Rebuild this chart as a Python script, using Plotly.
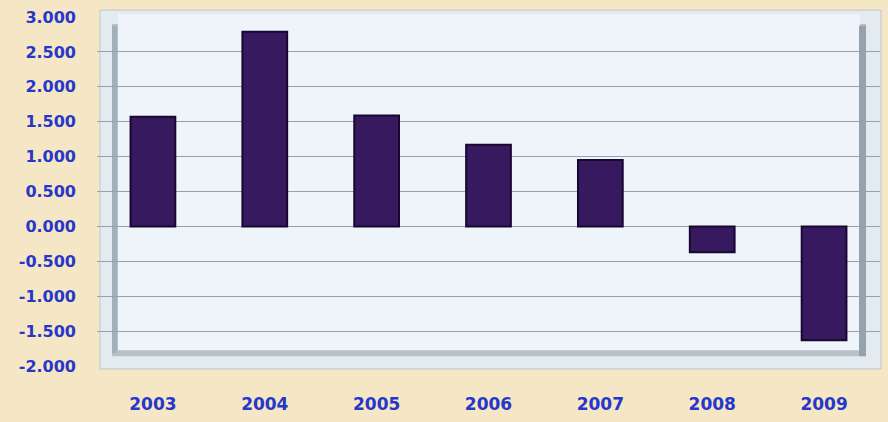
import plotly.graph_objects as go

years = ["2003", "2004", "2005", "2006", "2007", "2008", "2009"]
values = [1.57, 2.79, 1.59, 1.17, 0.95, -0.37, -1.63]
y_ticks = [3.0, 2.5, 2.0, 1.5, 1.0, 0.5, 0.0, -0.5, -1.0, -1.5, -2.0]
y_tick_labels = ["3.000", "2.500", "2.000", "1.500", "1.000", "0.500", "0.000",
                 "-0.500", "-1.000", "-1.500", "-2.000"]

W, H = 888, 422
L, R, T, B = 97, 8, 15, 53
pw, ph = W - L - R, H - T - B


def px(x):
    return (x - L) / pw


def py(y):
    return (H - B - y) / ph


def rect(x0, y0, x1, y1, fill, line=None, lw=0):
    return dict(type="rect", xref="paper", yref="paper", layer="below",
                x0=px(x0), x1=px(x1), y0=py(y1), y1=py(y0),
                fillcolor=fill, line=dict(color=line or fill, width=lw))


blue = "#2637c9"
font_fam = "DejaVu Sans, Verdana, sans-serif"

fig = go.Figure(go.Bar(
    x=years, y=values, width=0.4,
    marker=dict(color="#36195f", line=dict(color="#180830", width=2)),
))

shapes = [
    rect(100, 8, 881, 372, "#e4ebf0", "#bcc7ce", 1),
    rect(112, 22, 866, 359, "#b6c1c8"),
    rect(118, 12, 860, 353, "#eef4fa"),
    rect(112, 24, 117, 356, "#a3b0b9"),
    rect(859, 24, 866, 359, "#96a3ac"),
]

fig.update_layout(
    width=W, height=H,
    margin=dict(l=L, r=R, t=T, b=B),
    paper_bgcolor="#f5e6c5",
    plot_bgcolor="rgba(0,0,0,0)",
    showlegend=False,
    shapes=shapes,
    xaxis=dict(
        showgrid=False, showline=False, ticks="",
        tickfont=dict(family=font_fam, size=17, color=blue, weight="bold"),
        ticklabelstandoff=26,
    ),
    yaxis=dict(
        range=[-2, 3], tickvals=y_ticks, ticktext=y_tick_labels,
        showgrid=True, gridcolor="#96a1a8", gridwidth=1,
        zeroline=True, zerolinecolor="#96a1a8", zerolinewidth=1,
        showline=False, ticks="",
        tickfont=dict(family=font_fam, size=16, color=blue, weight="bold"),
        ticklabelstandoff=20,
    ),
)

fig.write_html("out.html")
